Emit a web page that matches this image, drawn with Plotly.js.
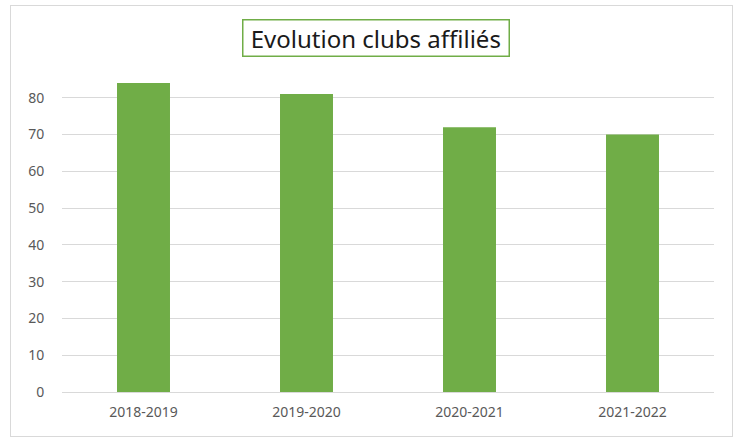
<!DOCTYPE html>
<html>
<head>
<meta charset="utf-8">
<script src="https://cdn.plot.ly/plotly-3.0.1.min.js"></script>
<style>
body{margin:0;background:#fff;}
#wrap{position:relative;width:742px;height:439px;}
#chart{position:absolute;left:0;top:0;width:742px;height:439px;}
#frame{position:absolute;left:10px;top:5px;width:721px;height:430px;border:1px solid #d9d9d9;pointer-events:none;}
</style>
</head>
<body>
<div id="wrap"><div id="chart"></div><div id="frame"></div></div>
<script>
const seasons = ["2018-2019","2019-2020","2020-2021","2021-2022"];
const clubs = [84, 81, 72, 70];
const yTicks = [0,10,20,30,40,50,60,70,80];
const titleText = "Evolution clubs affiliés";

const data = [{
  type: 'bar',
  x: seasons,
  y: clubs,
  marker: {color: '#70ad47'},
  hoverinfo: 'x+y'
}];

const layout = {
  width: 742, height: 439,
  margin: {l: 62, r: 28, t: 61, b: 47},
  paper_bgcolor: 'rgba(0,0,0,0)',
  plot_bgcolor: '#fff',
  bargap: 0.675,
  font: {family: 'Noto Sans, sans-serif', color: '#595959', size: 14},
  showlegend: false,
  xaxis: {
    type: 'category',
    showgrid: false,
    zeroline: false,
    showline: false,
    ticks: 'outside', ticklen: 7, tickcolor: 'rgba(0,0,0,0)',
    tickfont: {size: 14, color: '#595959'}
  },
  yaxis: {
    range: [0, 90],
    tickvals: yTicks,
    ticktext: yTicks.map(String),
    showgrid: true,
    gridcolor: '#d9d9d9',
    gridwidth: 1,
    zeroline: true,
    zerolinecolor: '#d9d9d9',
    zerolinewidth: 1,
    showline: false,
    ticks: 'outside', ticklen: 14, tickcolor: 'rgba(0,0,0,0)',
    tickfont: {size: 14, color: '#595959'}
  },
  annotations: [{
    text: '\u00a0' + titleText + '\u00a0',
    xref: 'paper', yref: 'paper',
    x: 0.481, y: 1.07,
    xanchor: 'center', yanchor: 'middle',
    showarrow: false,
    font: {family: 'Noto Sans, sans-serif', size: 24, color: '#1a1a1a'},
    bordercolor: '#70ad47', borderwidth: 1.5, borderpad: 1,
    bgcolor: '#fff'
  }]
};

Plotly.newPlot('chart', data, layout, {displayModeBar: false, staticPlot: true});
</script>
</body>
</html>
